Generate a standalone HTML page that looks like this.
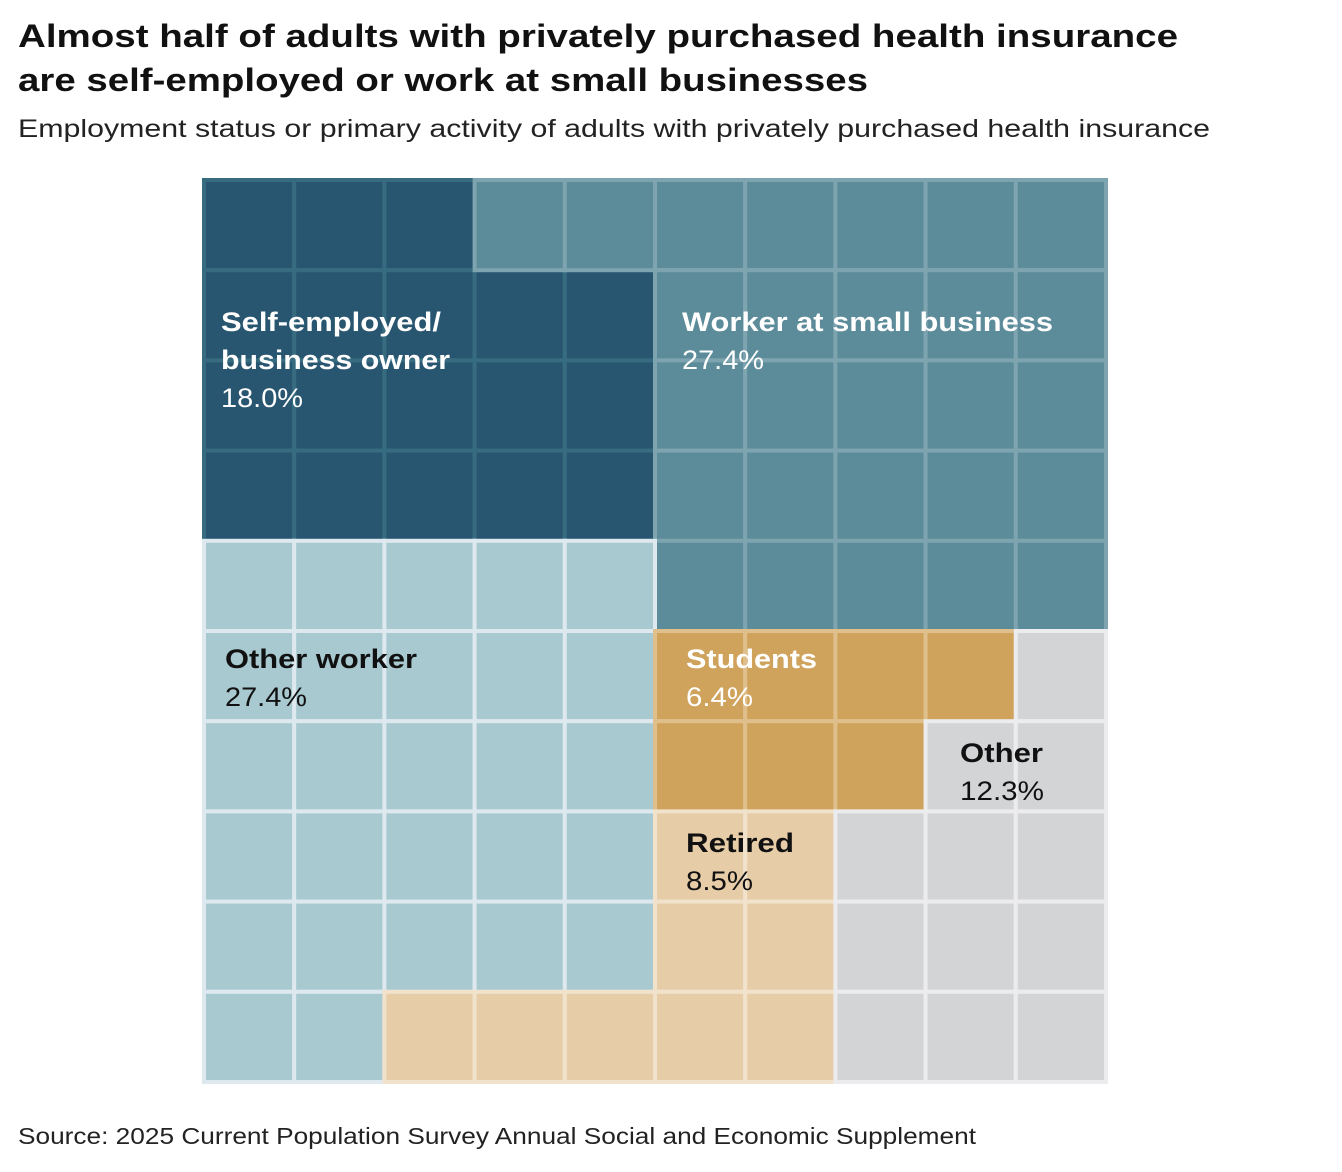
<!DOCTYPE html>
<html><head><meta charset="utf-8"><style>
body{margin:0;background:#fff;width:1342px;height:1172px;overflow:hidden;font-family:"Liberation Sans",sans-serif;}
svg{position:absolute;left:0;top:0}
</style></head><body>
<svg id="chart" width="1342" height="1172">
<text x="18" y="47" font-size="32" font-weight="bold" fill="#111" textLength="1160" lengthAdjust="spacingAndGlyphs">Almost half of adults with privately purchased health insurance</text>
<text x="18" y="91" font-size="32" font-weight="bold" fill="#111" textLength="850" lengthAdjust="spacingAndGlyphs">are self-employed or work at small businesses</text>
<text x="18" y="137" font-size="25" fill="#222" textLength="1192" lengthAdjust="spacingAndGlyphs">Employment status or primary activity of adults with privately purchased health insurance</text>
<g id="cells"></g>
<g id="labels"></g>
<text x="18" y="1144" font-size="23" fill="#222" textLength="958" lengthAdjust="spacingAndGlyphs">Source: 2025 Current Population Survey Annual Social and Economic Supplement</text>
</svg>
<script>
const categories = ["Self-employed/business owner","Worker at small business","Other worker","Students","Retired","Other"];
const percents = [18.0, 27.4, 27.4, 6.4, 8.5, 12.3];
const cellCounts = [18, 27, 27, 7, 9, 12];
const fills = ["#285570","#5c8b9a","#a8c9d0","#cfa35b","#e7cca8","#d3d4d6"];
const lines = ["#376c80","#7ea4b0","#dde8ef","#dfc08c","#f1e2cc","#ececee"];
// fill path segments: [row, colStart, colEnd]
const path = [[0,0,2],[1,0,4],[2,0,4],[3,0,4],
 [0,3,9],[1,5,9],[2,5,9],[3,5,9],[4,5,9],
 [4,0,4],[5,0,4],[6,0,4],[7,0,4],[8,0,4],[9,0,1],
 [5,5,8],[6,5,7],
 [7,5,6],[8,5,6],[9,2,6],
 [5,9,9],[6,8,9],[7,7,9],[8,7,9],[9,7,9]];
const x0=204,y0=180,cs=90.2;
const NS="http://www.w3.org/2000/svg";
const order=[];
path.forEach(s=>{for(let c=s[1];c<=s[2];c++)order.push([s[0],c]);});
const g=document.getElementById('cells');
let k=0;
cellCounts.forEach((n,ci)=>{
  for(let i=0;i<n&&k<order.length;i++,k++){
    const [r,c]=order[k];
    const el=document.createElementNS(NS,'rect');
    el.setAttribute('x',x0+c*cs);el.setAttribute('y',y0+r*cs);
    el.setAttribute('width',cs);el.setAttribute('height',cs);
    el.setAttribute('fill',fills[ci]);el.setAttribute('stroke',lines[ci]);el.setAttribute('stroke-width',4);
    
    
    g.appendChild(el);
  }
});
const lab=document.getElementById('labels');
const labelSpec=[
 {lines:["Self-employed/","business owner"],w:[220,229],pw:82,x:221,y:331,col:"#fff"},
 {lines:["Worker at small business"],w:[371],pw:82,x:682,y:331,col:"#fff"},
 {lines:["Other worker"],w:[192],pw:82,x:225,y:668,col:"#111"},
 {lines:["Students"],w:[131],pw:67,x:686,y:668,col:"#fff"},
 {lines:["Retired"],w:[108],pw:67,x:686,y:852,col:"#111"},
 {lines:["Other"],w:[83],pw:84,x:960,y:762,col:"#111"}];
labelSpec.forEach((s,i)=>{
  let y=s.y;
  s.lines.forEach((t,j)=>{
    const e=document.createElementNS(NS,'text');
    e.setAttribute('x',s.x);e.setAttribute('y',y);e.setAttribute('font-size',27);e.setAttribute('font-weight','bold');e.setAttribute('fill',s.col);
    e.setAttribute('textLength',s.w[j]);e.setAttribute('lengthAdjust','spacingAndGlyphs');
    e.textContent=t;
    
    
    lab.appendChild(e);y+=38;
  });
  const p=document.createElementNS(NS,'text');
  p.setAttribute('x',s.x);p.setAttribute('y',y);p.setAttribute('font-size',27);p.setAttribute('fill',s.col);
  p.setAttribute('textLength',s.pw);p.setAttribute('lengthAdjust','spacingAndGlyphs');
  p.textContent=percents[i].toFixed(1)+'%';
  
  
  lab.appendChild(p);
});
</script>
</body></html>
